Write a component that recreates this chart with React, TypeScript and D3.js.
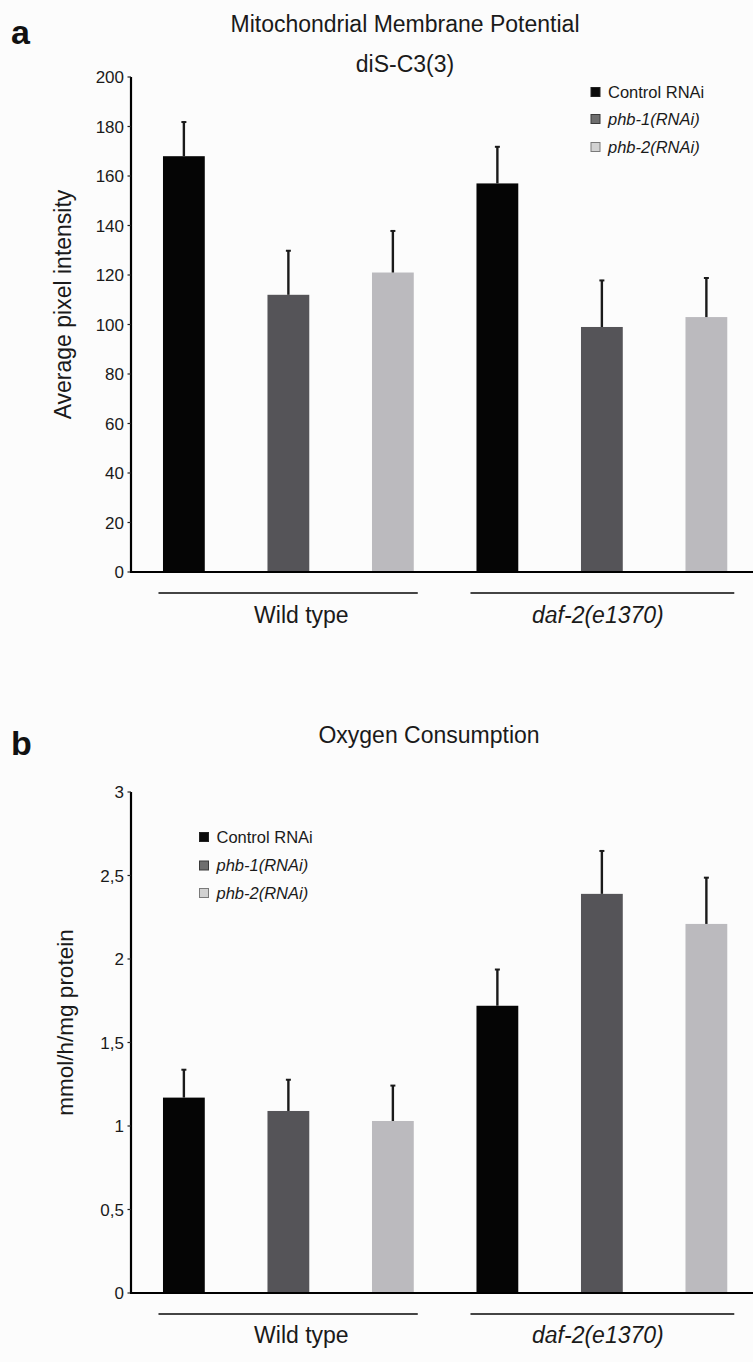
import React from "react";
import * as d3 from "d3";

const groups = ["Wild type", "daf-2(e1370)"];
const series = ["Control RNAi", "phb-1(RNAi)", "phb-2(RNAi)"];
const seriesItalic = [false, true, true];
const barColors = ["#050505", "#555458", "#bbbabe"];
const legendFill = ["#0a0a0a", "#6e6e6e", "#d2d2d2"];
const legendStroke = ["#222222", "#3a3a3a", "#7a7a7a"];

// Panel a: mitochondrial membrane potential (order: WT ctrl, phb-1, phb-2, daf-2 ctrl, phb-1, phb-2)
const meanA = [168, 112, 121, 157, 99, 103];
const errA = [14, 18, 17, 15, 19, 16];
const ticksA = [0, 20, 40, 60, 80, 100, 120, 140, 160, 180, 200];

// Panel b: oxygen consumption
const meanB = [1.17, 1.09, 1.03, 1.72, 2.39, 2.21];
const errB = [0.17, 0.19, 0.215, 0.22, 0.26, 0.28];
const ticksB = [0, 0.5, 1, 1.5, 2, 2.5, 3];

const FONT = "'Liberation Sans', Arial, Helvetica, sans-serif";
const AXIS_X = 131;
const W = 753;
const H = 1362;

const keys = groups.flatMap((g) => series.map((s) => g + "|" + s));
const x = d3
  .scaleBand<string>()
  .domain(keys)
  .range([AXIS_X, AXIS_X + 104.5 * 6.012])
  .paddingInner(0.6)
  .paddingOuter(0.306);

type PanelProps = {
  letter: string;
  letterY: number;
  titles: { text: string; x: number; y: number }[];
  yTop: number;
  yZero: number;
  domainMax: number;
  ticks: number[];
  fmt: (v: number) => string;
  means: number[];
  errs: number[];
  yLabel: string;
  yLabelX: number;
  yLabelSize: number;
  legendX: number;
  legendY: number[];
  underlineY: number;
  groupLabelY: number;
};

function Panel(p: PanelProps) {
  const y = d3.scaleLinear().domain([0, p.domainMax]).range([p.yZero, p.yTop]);
  const bw = x.bandwidth();
  const labelOffsets = [13, -4];
  const lineExt = [
    [-4.5, 4],
    [-6, 7],
  ];
  return (
    <g>
      <text x={11} y={p.letterY} fontFamily={FONT} fontWeight="bold" fontSize={34} fill="#111">
        {p.letter}
      </text>
      {p.titles.map((t, i) => (
        <text key={i} x={t.x} y={t.y} textAnchor="middle" fontFamily={FONT} fontSize={23} fill="#1a1a1a">
          {t.text}
        </text>
      ))}
      {/* bars */}
      {keys.map((k, i) => (
        <rect key={k} x={x(k)} y={y(p.means[i])} width={bw} height={p.yZero - y(p.means[i])} fill={barColors[i % 3]} />
      ))}
      {/* error bars */}
      {keys.map((k, i) => {
        const cx = (x(k) as number) + bw / 2;
        const yt = y(p.means[i] + p.errs[i]);
        return (
          <g key={"e" + k}>
            <line x1={cx} x2={cx} y1={y(p.means[i])} y2={yt} stroke="#1a1a1a" strokeWidth={2.4} />
            <line x1={cx - 2.5} x2={cx + 2.5} y1={yt + 0.5} y2={yt + 0.5} stroke="#1a1a1a" strokeWidth={2} />
          </g>
        );
      })}
      {/* y axis */}
      <line x1={AXIS_X} x2={AXIS_X} y1={p.yTop} y2={p.yZero} stroke="#000" strokeWidth={2.2} />
      {p.ticks.map((t) => (
        <g key={t}>
          <line x1={AXIS_X - 3.5} x2={AXIS_X} y1={y(t)} y2={y(t)} stroke="#222" strokeWidth={1.2} />
          <text x={124} y={y(t)} dy="0.36em" textAnchor="end" fontFamily={FONT} fontSize={17} fill="#1a1a1a">
            {p.fmt(t)}
          </text>
        </g>
      ))}
      {/* x axis */}
      <line x1={AXIS_X - 1} x2={W} y1={p.yZero} y2={p.yZero} stroke="#000" strokeWidth={2.2} />
      {/* y label */}
      <text
        transform={`translate(${p.yLabelX},${(p.yTop + p.yZero) / 2 - 20}) rotate(-90)`}
        textAnchor="middle"
        dominantBaseline="central"
        fontFamily={FONT}
        fontSize={p.yLabelSize}
        fill="#1a1a1a"
      >
        {p.yLabel}
      </text>
      {/* group underlines and labels */}
      {groups.map((g, gi) => {
        const first = x(g + "|" + series[0]) as number;
        const last = (x(g + "|" + series[2]) as number) + bw;
        return (
          <g key={g}>
            <line x1={first + lineExt[gi][0]} x2={last + lineExt[gi][1]} y1={p.underlineY} y2={p.underlineY} stroke="#444" strokeWidth={1.8} />
            <text
              x={(first + last) / 2 + labelOffsets[gi]}
              y={p.groupLabelY}
              textAnchor="middle"
              fontFamily={FONT}
              fontSize={23}
              fontStyle={gi === 1 ? "italic" : "normal"}
              fill="#1a1a1a"
            >
              {g}
            </text>
          </g>
        );
      })}
      {/* legend */}
      {series.map((s, i) => (
        <g key={s}>
          <rect x={p.legendX} y={p.legendY[i] - 4.5} width={9} height={9} fill={legendFill[i]} stroke={legendStroke[i]} strokeWidth={1} />
          <text
            x={p.legendX + 17}
            y={p.legendY[i]}
            dy="0.36em"
            fontFamily={FONT}
            fontSize={16.5}
            fontStyle={seriesItalic[i] ? "italic" : "normal"}
            fill="#1a1a1a"
          >
            {s}
          </text>
        </g>
      ))}
    </g>
  );
}

const fmtA = (v: number) => String(v);
const fmtB = (v: number) => String(v).replace(".", ",");

export default function App() {
  return (
    <svg width={W} height={H} style={{ position: "absolute", left: 0, top: 0 }} xmlns="http://www.w3.org/2000/svg">
      <rect x={0} y={0} width={W} height={H} fill="#fcfcfc" />
      <Panel
        letter="a"
        letterY={44}
        titles={[
          { text: "Mitochondrial Membrane Potential", x: 405, y: 32 },
          { text: "diS-C3(3)", x: 405, y: 72 },
        ]}
        yTop={77}
        yZero={572}
        domainMax={200}
        ticks={ticksA}
        fmt={fmtA}
        means={meanA}
        errs={errA}
        yLabel="Average pixel intensity"
        yLabelX={63}
        yLabelSize={23}
        legendX={591}
        legendY={[92, 119, 147]}
        underlineY={593}
        groupLabelY={622.5}
      />
      <Panel
        letter="b"
        letterY={755}
        titles={[{ text: "Oxygen Consumption", x: 429, y: 742.5 }]}
        yTop={792}
        yZero={1293}
        domainMax={3}
        ticks={ticksB}
        fmt={fmtB}
        means={meanB}
        errs={errB}
        yLabel="mmol/h/mg protein"
        yLabelX={65}
        yLabelSize={22.5}
        legendX={199.5}
        legendY={[837, 865.5, 893]}
        underlineY={1314}
        groupLabelY={1343}
      />
    </svg>
  );
}
